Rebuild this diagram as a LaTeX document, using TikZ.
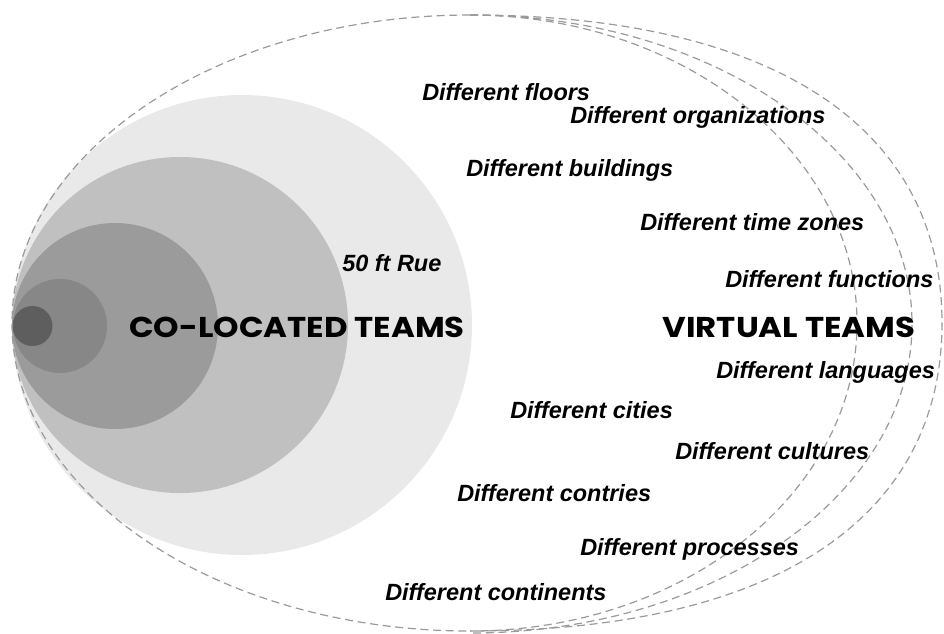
\documentclass[tikz,border=0pt]{standalone}
\usepackage{fontspec}
\setmainfont{Liberation Sans}
\newfontfamily\headfont{Poppins}[FakeStretch=1.13]
\usepackage{tikz}
\usetikzlibrary{positioning}

\definecolor{ringA}{HTML}{E9E9E9}
\definecolor{ringB}{HTML}{C0C0C0}
\definecolor{ringC}{HTML}{9B9B9B}
\definecolor{ringD}{HTML}{878787}
\definecolor{ringE}{HTML}{5E5E5E}
\definecolor{dashgray}{HTML}{9A9A9A}

\begin{document}
\begin{tikzpicture}[x=0.75pt, y=-0.75pt,
                factortext/.style={anchor=west, inner sep=0pt, font=\fontsize{17.6}{20}\selectfont\bfseries\itshape},
                teamtext/.style={inner sep=0pt, font=\fontsize{21.5}{24}\selectfont\headfont\bfseries},
                boundary/.style={draw=dashgray, line width=0.9pt, dash pattern=on 6pt off 3.5pt},
            ]
            \useasboundingbox (0,0) rectangle (944,633);

            % Circles
            \fill[ringA] (242,325) circle [radius=230];
            \fill[ringB] (180,325) circle [radius=168];
            \fill[ringC] (115,326) circle [radius=103];
            \fill[ringD] (60,326) circle [radius=47];
            \fill[ringE] (32.5,326) circle [radius=20];

            % Boundaries
            \coordinate (top) at (470,15);
            \draw[boundary] (top) arc [start angle=-90, end angle=-270, x radius=458, y radius=308];
            \draw[boundary] (top) arc [start angle=-90, end angle=90, x radius=387, y radius=308];
            \draw[boundary] (top) arc [start angle=-90, end angle=90, x radius=442, y radius=309];
            \draw[boundary] (top) .. controls (772,15) and (942,126) .. (942,323)
                                  .. controls (942,520) and (772,631) .. (470,631);

            % Nodes
            \node[factortext] (floors)        at (422,92)  {Different floors};
            \node[factortext] (organizations) at (570,117) {Different organizations};
            \node[factortext] (buildings)     at (466,170) {Different buildings};
            \node[factortext] (timezones)     at (640,222) {Different time zones};
            \node[factortext] (rule)          at (342,263) {50 ft Rue};
            \node[factortext] (functions)     at (725,279) {Different functions};
            \node[teamtext]   (colocated)     at (297,327) {CO-LOCATED TEAMS};
            \node[teamtext]   (virtual)       at (789,327) {VIRTUAL TEAMS};
            \node[factortext] (languages)     at (716,372) {Different languages};
            \node[factortext] (cities)        at (510,410) {Different cities};
            \node[factortext] (cultures)      at (675,451) {Different cultures};
            \node[factortext] (countries)     at (457,493) {Different contries};
            \node[factortext] (processes)     at (580,549) {Different processes};
            \node[factortext] (continents)    at (385,592) {Different continents};
        \end{tikzpicture}
\end{document}
